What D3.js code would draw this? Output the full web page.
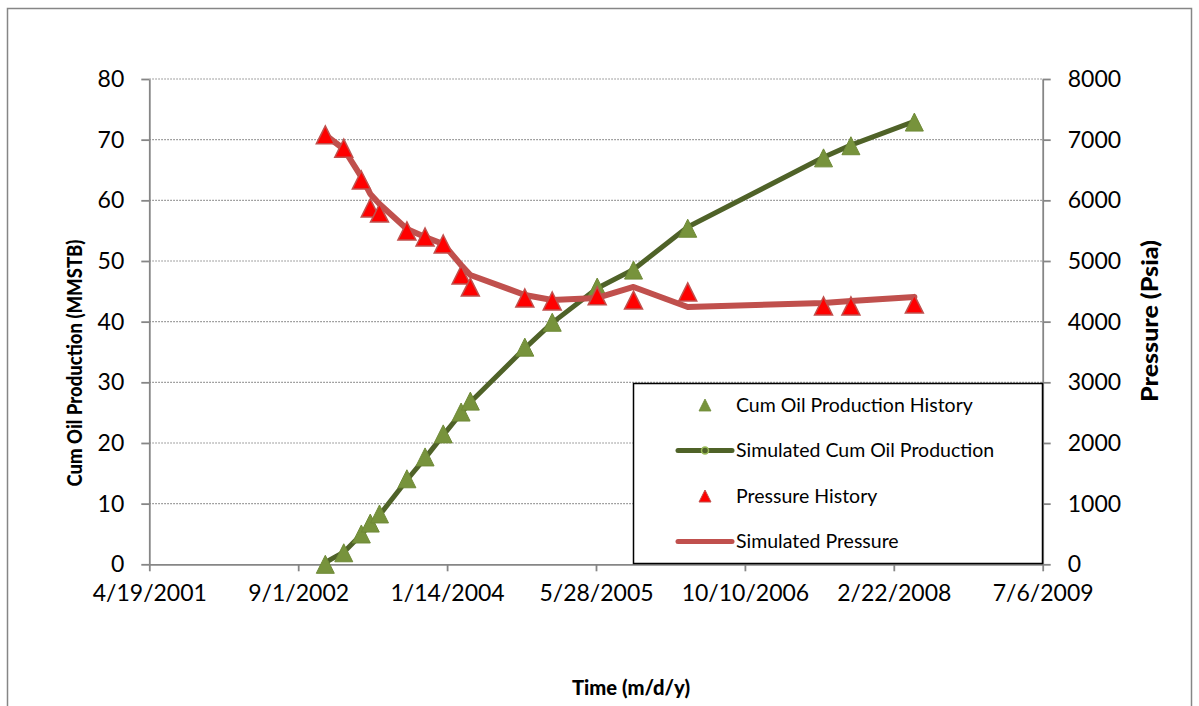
<!DOCTYPE html>
<html>
<head>
<meta charset="utf-8">
<script src="https://cdn.jsdelivr.net/npm/d3@7"></script>
<style>
  html, body { margin: 0; padding: 0; background: #fff; }
  svg { display: block; font-family: Lato, "Open Sans", sans-serif; }
</style>
</head>
<body>
<svg id="chart" width="1199" height="706"></svg>
<script>
// Sampling dates (m/d/y) shared by history and simulation
const dates = ["12/1/2002","2/1/2003","4/1/2003","5/1/2003","6/1/2003","9/1/2003",
  "11/1/2003","1/1/2004","3/1/2004","4/1/2004","10/1/2004","1/1/2005",
  "6/1/2005","10/1/2005","4/1/2006","7/1/2007","10/1/2007","5/1/2008"];

// Cumulative oil production, MMSTB
const cumOilHistory = [0, 1.9, 5.0, 6.8, 8.3, 14.1, 17.7, 21.5, 25.1, 26.9,
  35.8, 39.9, 45.7, 48.5, 55.4, 67.0, 69.0, 72.9];
const cumOilSimulated = [0.3, 2.0, 4.9, 6.6, 8.1, 13.9, 17.5, 21.3, 24.9, 26.7,
  35.6, 39.8, 45.5, 48.6, 55.6, 67.1, 69.1, 73.0];

// Reservoir pressure, psia
const pressureHistory = [7080, 6860, 6335, 5875, 5790, 5495, 5395, 5280, 4770, 4570,
  4390, 4340, 4425, 4355, 4490, 4260, 4260, 4290];
const pressureSimulated = [7077, 6846, 6385, 6105, 5940, 5528, 5396, 5280, 4934, 4769,
  4440, 4358, 4391, 4572, 4242, 4308, 4341, 4407];

// Axis ticks
const xTickLabels = ["4/19/2001","9/1/2002","1/14/2004","5/28/2005","10/10/2006","2/22/2008","7/6/2009"];
const leftTicks = [0, 10, 20, 30, 40, 50, 60, 70, 80];
const rightTicks = [0, 1000, 2000, 3000, 4000, 5000, 6000, 7000, 8000];

const legendItems = [
  { label: "Cum Oil Production History", kind: "cumMarker" },
  { label: "Simulated Cum Oil Production", kind: "cumLine" },
  { label: "Pressure History", kind: "presMarker" },
  { label: "Simulated Pressure", kind: "presLine" }
];

const parse = d3.timeParse("%m/%d/%Y");
const fmt = d3.timeFormat("%-m/%-d/%Y");

const svg = d3.select("#chart");
const plot = { left: 149.3, right: 1042.7, top: 79, bottom: 564.3 };

const x = d3.scaleTime()
  .domain([parse(xTickLabels[0]), parse(xTickLabels[xTickLabels.length - 1])])
  .range([plot.left, plot.right]);
const yL = d3.scaleLinear().domain([0, 80]).range([plot.bottom, plot.top]);
const yR = d3.scaleLinear().domain([0, 8000]).range([plot.bottom, plot.top]);

const axisGray = "#868686";

// Chart area border
svg.append("rect")
  .attr("x", 7.5).attr("y", 8.5).attr("width", 1184).attr("height", 720)
  .attr("fill", "#fff").attr("stroke", axisGray).attr("stroke-width", 1.5);

// Dotted horizontal gridlines
svg.append("g").selectAll("line")
  .data(leftTicks.filter(d => d > 0))
  .join("line")
  .attr("x1", plot.left).attr("x2", plot.right)
  .attr("y1", d => yL(d)).attr("y2", d => yL(d))
  .attr("stroke", axisGray).attr("stroke-width", 1.2)
  .attr("stroke-dasharray", "1.5,1.5");

function styleAxis(g) {
  g.select(".domain").attr("stroke", axisGray).attr("stroke-width", 1.8);
  g.selectAll(".tick line").attr("stroke", axisGray).attr("stroke-width", 1.8);
  g.selectAll(".tick text").attr("fill", "#000").attr("font-size", 23)
    .attr("font-family", "Lato, sans-serif");
}

// Bottom time axis
const xAxis = d3.axisBottom(x)
  .tickValues(xTickLabels.map(parse))
  .tickFormat(fmt)
  .tickSizeInner(7).tickSizeOuter(0).tickPadding(10);
svg.append("g")
  .attr("transform", `translate(0,${plot.bottom})`)
  .call(xAxis)
  .call(styleAxis)
  .call(g => g.selectAll(".tick text").attr("dy", "0.85em"));

// Left axis (cumulative oil)
const leftAxis = d3.axisLeft(yL).tickValues(leftTicks)
  .tickFormat(d3.format("d"))
  .tickSizeInner(8).tickSizeOuter(0).tickPadding(17);
svg.append("g")
  .attr("transform", `translate(${plot.left},0)`)
  .call(leftAxis)
  .call(styleAxis);

// Right axis (pressure)
const rightAxis = d3.axisRight(yR).tickValues(rightTicks)
  .tickFormat(d3.format("d"))
  .tickSizeInner(8).tickSizeOuter(0).tickPadding(17);
svg.append("g")
  .attr("transform", `translate(${plot.right},0)`)
  .call(rightAxis)
  .call(styleAxis);

// Axis titles (bold, slightly condensed)
function title(sel, size, len) {
  return sel.attr("text-anchor", "middle")
    .attr("font-size", size).attr("font-weight", 900)
    .attr("textLength", len).attr("lengthAdjust", "spacingAndGlyphs");
}
svg.append("text")
  .attr("transform", "translate(82,363) rotate(-90)")
  .call(title, 20.5, 247)
  .text("Cum Oil Production (MMSTB)");
svg.append("text")
  .attr("transform", "translate(1158,321) rotate(-90)")
  .call(title, 22, 162)
  .text("Pressure (Psia)");
svg.append("text")
  .attr("x", 631).attr("y", 695)
  .call(title, 21, 118)
  .text("Time (m/d/y)");

// Triangle marker path centred on its bounding box
function triangle(w, h) {
  return `M0,${-h / 2}L${w / 2},${h / 2}L${-w / 2},${h / 2}Z`;
}

const greenLine = "#4f6228";
const greenFill = "#77933c";
const greenEdge = "#6f8a37";
const redLine = "#c0504d";
const redFill = "#ff0000";
const redEdge = "#c0504d";

const cumSim = dates.map((d, i) => ({ t: parse(d), v: cumOilSimulated[i] }));
const cumHist = dates.map((d, i) => ({ t: parse(d), v: cumOilHistory[i] }));
const presSim = dates.map((d, i) => ({ t: parse(d), v: pressureSimulated[i] }));
const presHist = dates.map((d, i) => ({ t: parse(d), v: pressureHistory[i] }));

// Simulated cumulative oil line
svg.append("path")
  .datum(cumSim)
  .attr("fill", "none").attr("stroke", greenLine).attr("stroke-width", 5)
  .attr("stroke-linejoin", "round").attr("stroke-linecap", "round")
  .attr("d", d3.line().x(d => x(d.t)).y(d => yL(d.v)));

// Cumulative oil history markers
svg.append("g").selectAll("path")
  .data(cumHist)
  .join("path")
  .attr("transform", d => `translate(${x(d.t)},${yL(d.v)})`)
  .attr("d", triangle(18, 18))
  .attr("fill", greenFill).attr("stroke", greenEdge).attr("stroke-width", 1);

// Simulated pressure line
svg.append("path")
  .datum(presSim)
  .attr("fill", "none").attr("stroke", redLine).attr("stroke-width", 6)
  .attr("stroke-linejoin", "round").attr("stroke-linecap", "round")
  .attr("d", d3.line().x(d => x(d.t)).y(d => yR(d.v)));

// Pressure history markers
svg.append("g").selectAll("path")
  .data(presHist)
  .join("path")
  .attr("transform", d => `translate(${x(d.t)},${yR(d.v)})`)
  .attr("d", triangle(18, 18))
  .attr("fill", redFill).attr("stroke", redEdge).attr("stroke-width", 1.5);

// Legend
const legend = svg.append("g");
legend.append("rect")
  .attr("x", 633.5).attr("y", 383.5).attr("width", 409).attr("height", 180)
  .attr("fill", "#fff").attr("stroke", "#000").attr("stroke-width", 1.5);

const rows = legend.selectAll("g.item")
  .data(legendItems)
  .join("g")
  .attr("class", "item")
  .attr("transform", (d, i) => `translate(705,${405 + i * 45.5})`);

rows.each(function (d) {
  const g = d3.select(this);
  if (d.kind === "cumLine" || d.kind === "presLine") {
    g.append("line")
      .attr("x1", -27).attr("x2", 27).attr("y1", 0).attr("y2", 0)
      .attr("stroke", d.kind === "cumLine" ? greenLine : redLine)
      .attr("stroke-width", 5).attr("stroke-linecap", "round");
  }
  if (d.kind === "cumLine") {
    g.append("circle").attr("r", 3.5)
      .attr("fill", greenLine).attr("stroke", "#9bbb59").attr("stroke-width", 1.5);
  }
  if (d.kind === "cumMarker") {
    g.append("path").attr("d", triangle(12, 12))
      .attr("fill", greenFill).attr("stroke", greenEdge).attr("stroke-width", 0.8);
  }
  if (d.kind === "presMarker") {
    g.append("path").attr("d", triangle(12, 12))
      .attr("fill", redFill).attr("stroke", redEdge).attr("stroke-width", 1);
  }
  g.append("text")
    .attr("x", 31).attr("dy", "0.35em")
    .attr("font-size", 19.5).attr("fill", "#000")
    .text(d.label);
});
</script>
</body>
</html>
